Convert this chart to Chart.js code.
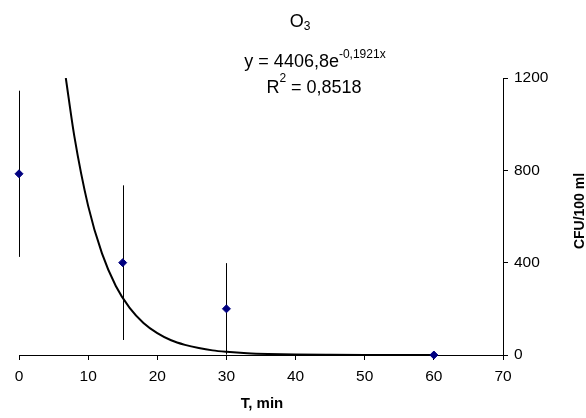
<!DOCTYPE html>
<html><head><meta charset="utf-8">
<script src="https://cdn.jsdelivr.net/npm/chart.js@4"></script>
<style>html,body{margin:0;padding:0;background:#fff}#c{display:block}</style>
</head><body><canvas id="c" width="586" height="418"></canvas>
<script>
const times = [0, 15, 30, 60];
const cfu = [785, 400, 200, 0];
const cfuErr = [360, 335, 198, 0];
const trendT = [6.77, 8, 10, 12, 14, 16, 18, 20, 22, 24, 26, 28, 30, 33, 36, 40, 45, 50, 55, 60];
const trendCfu = [1200, 948, 646, 440, 299, 204, 139, 95, 64, 44, 30, 20, 14, 7.8, 4.4, 2.0, 0.8, 0.3, 0.1, 0.04];
const xTicks = [0, 10, 20, 30, 40, 50, 60, 70];
const yTicks = [0, 400, 800, 1200];
const titleMain = 'O', titleSub = '3';
const eqMain = 'y = 4406,8e', eqSup = '-0,1921x';
const r2Main = 'R', r2Sup = '2', r2Rest = ' = 0,8518';
const xTitle = 'T, min', yTitle = 'CFU/100 ml';

const FONT = '"Liberation Sans", Arial, sans-serif';

const pointsData = times.map((t, i) => ({x: t, y: cfu[i]}));
const trendData = trendT.map((t, i) => ({x: t, y: trendCfu[i]}));

const extras = {
  id: 'extras',
  beforeDatasetsDraw(chart) {
    const ctx = chart.ctx, xs = chart.scales.x, ys = chart.scales.y;
    ctx.save();
    ctx.strokeStyle = '#000';
    ctx.lineWidth = 1;
    times.forEach((t, i) => {
      if (!cfuErr[i]) return;
      const px = Math.round(xs.getPixelForValue(t)) + 0.5;
      const top = ys.getPixelForValue(Math.min(cfu[i] + cfuErr[i], 1200));
      const bot = ys.getPixelForValue(Math.max(cfu[i] - cfuErr[i], 0));
      ctx.beginPath(); ctx.moveTo(px, top); ctx.lineTo(px, bot); ctx.stroke();
    });
    ctx.restore();
  },
  afterDraw(chart) {
    const ctx = chart.ctx;
    ctx.save();
    ctx.fillStyle = '#000';
    ctx.textBaseline = 'alphabetic';
    ctx.textAlign = 'left';
    // title O3
    ctx.font = '18px ' + FONT;
    let w1 = ctx.measureText(titleMain).width;
    ctx.font = '12px ' + FONT;
    let w2 = ctx.measureText(titleSub).width;
    let x0 = 300 - (w1 + w2) / 2;
    ctx.font = '18px ' + FONT; ctx.fillText(titleMain, x0, 27);
    ctx.font = '12px ' + FONT; ctx.fillText(titleSub, x0 + w1, 30);
    // equation
    ctx.font = '18px ' + FONT;
    w1 = ctx.measureText(eqMain).width;
    ctx.font = '12px ' + FONT;
    w2 = ctx.measureText(eqSup).width;
    x0 = 315 - (w1 + w2) / 2;
    ctx.font = '18px ' + FONT; ctx.fillText(eqMain, x0, 67);
    ctx.font = '12px ' + FONT; ctx.fillText(eqSup, x0 + w1, 58);
    // R2
    ctx.font = '18px ' + FONT;
    w1 = ctx.measureText(r2Main).width;
    const w3 = ctx.measureText(r2Rest).width;
    ctx.font = '12px ' + FONT;
    w2 = ctx.measureText(r2Sup).width;
    x0 = 314 - (w1 + w2 + w3) / 2;
    ctx.font = '18px ' + FONT; ctx.fillText(r2Main, x0, 93);
    ctx.font = '12px ' + FONT; ctx.fillText(r2Sup, x0 + w1, 82);
    ctx.font = '18px ' + FONT; ctx.fillText(r2Rest, x0 + w1 + w2, 93);
    // axis titles
    ctx.font = 'bold 15px ' + FONT;
    ctx.textAlign = 'center';
    ctx.textBaseline = 'middle';
    ctx.fillText(xTitle, 262, 404);
    ctx.translate(580, 211);
    ctx.rotate(-Math.PI / 2);
    ctx.font = 'bold 14px ' + FONT;
    ctx.fillText(yTitle, 0, 0);
    ctx.restore();
  }
};

new Chart(document.getElementById('c'), {
  type: 'scatter',
  data: {
    datasets: [
      {
        data: trendData,
        showLine: true,
        borderColor: '#000',
        borderWidth: 2,
        pointRadius: 0,
        cubicInterpolationMode: 'monotone',
        order: 2
      },
      {
        data: pointsData,
        showLine: false,
        clip: false,
        pointStyle: 'rectRot',
        pointRadius: 4,
        pointBackgroundColor: '#000080',
        pointBorderColor: '#000080',
        pointBorderWidth: 1,
        order: 1
      }
    ]
  },
  options: {
    responsive: false,
    animation: false,
    events: [],
    layout: {padding: {left: 19, top: 78, right: 0, bottom: 0}},
    plugins: {legend: {display: false}, tooltip: {enabled: false}, title: {display: false}},
    scales: {
      x: {
        type: 'linear', position: 'bottom', min: 0, max: 70,
        afterBuildTicks: s => { s.ticks = xTicks.map(v => ({value: v})); },
        afterFit: s => { s.height = 63; },
        grid: {drawOnChartArea: false, drawTicks: true, tickLength: 5, color: '#000'},
        border: {color: '#000', width: 1},
        ticks: {color: '#000', font: {family: FONT, size: 15.5}, padding: 7, maxRotation: 0, callback: v => String(v)}
      },
      y: {
        type: 'linear', position: 'right', min: 0, max: 1200,
        afterBuildTicks: s => { s.ticks = yTicks.map(v => ({value: v})); },
        afterFit: s => { s.width = 83; },
        grid: {drawOnChartArea: false, drawTicks: true, tickLength: 5, color: '#000'},
        border: {color: '#000', width: 1},
        ticks: {color: '#000', font: {family: FONT, size: 15.5}, padding: 6, callback: v => String(v)}
      }
    }
  },
  plugins: [extras]
});
</script>
</body></html>
